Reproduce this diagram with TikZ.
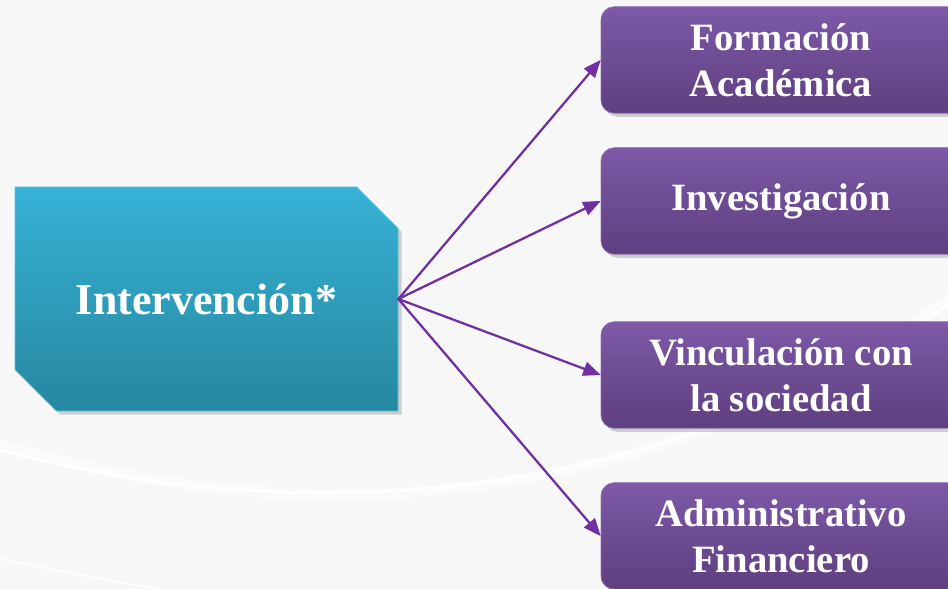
\documentclass[tikz,border=0pt]{standalone}
\usepackage{fontspec}
\setmainfont{Liberation Serif}
\usepackage{tikz}
\usetikzlibrary{arrows,shapes.misc,shadows}
\definecolor{bggray}{HTML}{F7F7F7}
\definecolor{tealtop}{HTML}{36B2D6}
\definecolor{tealbot}{HTML}{2787A0}
\definecolor{purptop}{HTML}{7D59A7}
\definecolor{purpbot}{HTML}{5E3F7F}
\definecolor{arrowpurp}{HTML}{7030A0}

\begin{document}
\begin{tikzpicture}[line cap=round,line join=round,>=triangle 45,x=1.0cm,y=1.0cm,
  mainbox/.style={chamfered rectangle,chamfered rectangle corners={north east,south west},
    chamfered rectangle sep=0.52cm,minimum width=7.66cm,minimum height=4.48cm,inner sep=0pt,
    top color=tealtop,bottom color=tealbot,draw=tealtop!80!white,line width=0.4pt,
    drop shadow={opacity=0.35,shadow xshift=2pt,shadow yshift=-2pt},
    text=white,font=\bfseries\fontsize{25}{30}\selectfont},
  areabox/.style={rectangle,rounded corners=7.5pt,minimum width=7.2cm,minimum height=2.13cm,
    top color=purptop,bottom color=purpbot,draw=purptop!85!white,line width=0.4pt,
    drop shadow={opacity=0.35,shadow xshift=2pt,shadow yshift=-2pt},
    text=white,align=center,font=\bfseries\fontsize{22}{26}\selectfont},
  link/.style={->,arrowpurp,line width=1.3pt}]
\clip(0,0) rectangle (18.96,11.78);
\fill[bggray] (0,0) rectangle (18.96,11.78);
% swoosh in the background
\draw[white,line width=6pt,opacity=0.5] (0,2.9) .. controls (6,1.1) and (13,1.5) .. (18.96,5.8);
\draw[white,line width=1.8pt] (0,2.78) .. controls (6,1.2) and (13,1.6) .. (18.96,5.68);
\draw[white,line width=1.2pt,opacity=0.8] (0,0.6) .. controls (1.5,0.3) and (2.5,0.1) .. (3.2,0);
% nodes
\node[mainbox] (interv) at (4.13,5.80) {Intervención*};
\node[areabox] (formacion) at (15.62,10.58) {Formación\\Académica};
\node[areabox] (investig) at (15.62,7.76) {Investigación};
\node[areabox] (vincul) at (15.62,4.28) {Vinculación con\\la sociedad};
\node[areabox] (admin) at (15.62,1.06) {Administrativo\\Financiero};
% connectors
\draw [link] (interv.east) -- (formacion.west);
\draw [link] (interv.east) -- (investig.west);
\draw [link] (interv.east) -- (vincul.west);
\draw [link] (interv.east) -- (admin.west);
\end{tikzpicture}
\end{document}
